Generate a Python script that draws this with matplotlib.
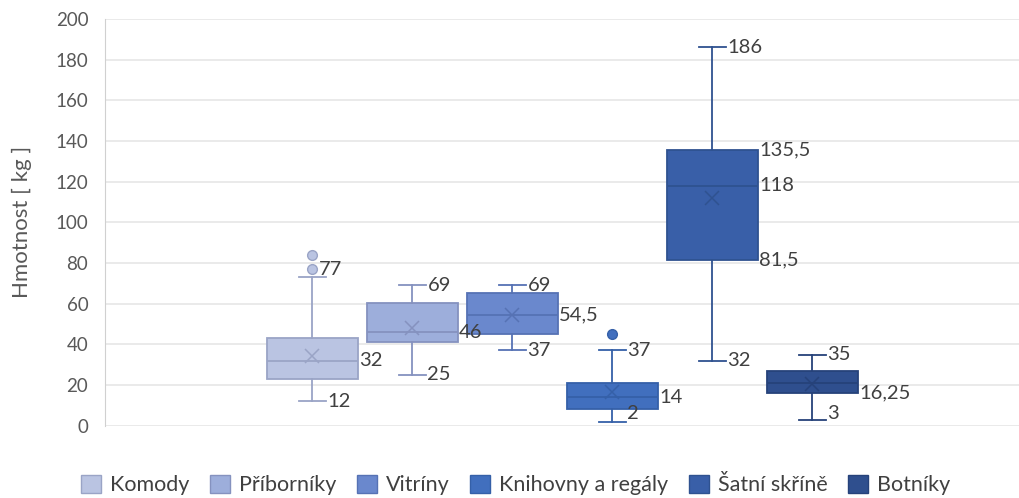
import numpy as np
import matplotlib.pyplot as plt
from matplotlib.patches import Patch

plt.rcParams['font.family'] = ['Lato', 'DejaVu Sans']

categories = ['Komody', 'Příborníky', 'Vitríny', 'Knihovny a regály', 'Šatní skříně', 'Botníky']
w_low  = [12, 25, 37, 2, 32, 3]
q1     = [23, 41, 45, 8.2, 81.5, 16.25]
median = [32, 46, 54.5, 14, 118, 21]
q3     = [43, 60.3, 65.3, 20.9, 135.5, 26.8]
w_high = [73, 69, 69, 37, 186, 35]
means  = [34.3, 48.2, 54.3, 16.5, 111.9, 20.3]
outliers = [[77, 84], [], [], [45], [], []]

fills = ['#BAC4E2', '#9DAEDB', '#6A88CD', '#416FBE', '#395FA8', '#2F4F8E']
edges = ['#9AA4C6', '#8592BF', '#5672B4', '#3560A8', '#2F5290', '#26427A']

# data labels: (category index, value, text, kind)
labels = [
    (0, 77, '77', 'point'), (0, 32, '32', 'box'), (0, 12, '12', 'cap'),
    (1, 69, '69', 'cap'), (1, 46, '46', 'box'), (1, 25, '25', 'cap'),
    (2, 69, '69', 'cap'), (2, 54.5, '54,5', 'box'), (2, 37, '37', 'cap'),
    (3, 37, '37', 'cap'), (3, 14, '14', 'box'), (3, 2, '2', 'cap'),
    (4, 186, '186', 'cap'), (4, 135.5, '135,5', 'box'), (4, 118, '118', 'box'),
    (4, 81.5, '81,5', 'box'), (4, 32, '32', 'cap'),
    (5, 35, '35', 'cap'), (5, 16.25, '16,25', 'box'), (5, 3, '3', 'cap'),
]

fig = plt.figure(figsize=(10.19, 4.98), dpi=100)
ax = fig.add_axes([105/1019, 72.3/498, 1 - 105/1019, (425.7-19)/498])

pos = np.arange(len(categories))
for i in range(len(categories)):
    st = [dict(med=median[i], q1=q1[i], q3=q3[i], whislo=w_low[i],
               whishi=w_high[i], mean=means[i], fliers=outliers[i])]
    ax.bxp(st, positions=[pos[i]], widths=0.91, showmeans=True, patch_artist=True,
           capwidths=0.27,
           boxprops=dict(facecolor=fills[i], edgecolor=edges[i], linewidth=1.3),
           medianprops=dict(color=edges[i], linewidth=1.3),
           whiskerprops=dict(color=edges[i], linewidth=1.3),
           capprops=dict(color=edges[i], linewidth=1.3),
           meanprops=dict(marker='x', markeredgecolor=edges[i], markersize=10,
                          markeredgewidth=1.1),
           flierprops=dict(marker='o', markerfacecolor=fills[i],
                           markeredgecolor=edges[i], markersize=7))

offs = {'cap': 0.155, 'box': 0.47, 'point': 0.07}
for i, v, t, kind in labels:
    ax.text(pos[i] + offs[kind], max(v, 6), t, ha='left', va='center',
            fontsize=14.5, color='#404040')

ax.set_xlim(2.5 - 4.57, 2.5 + 4.57)
ax.set_ylim(0, 200)
ax.set_yticks(np.arange(0, 201, 20))
ax.set_xticks([])
ax.tick_params(axis='y', length=0, labelsize=13.5, labelcolor='#595959', pad=12)
ax.grid(axis='y', color='#E6E6E6', linewidth=1.2)
ax.set_axisbelow(True)
for s in ['top', 'right', 'bottom']:
    ax.spines[s].set_visible(False)
ax.spines['left'].set_color('#D0D0D0')
ax.set_ylabel('Hmotnost [ kg ]', fontsize=16, color='#595959', labelpad=17)

handles = [Patch(facecolor=fills[i], edgecolor=edges[i], label=categories[i])
           for i in range(len(categories))]
fig.legend(handles=handles, loc='center', bbox_to_anchor=(516/1019, 1 - 485/498),
           ncol=6, frameon=False, fontsize=15.5, handlelength=0.93, handleheight=0.93,
           handletextpad=0.42, columnspacing=0.95, labelcolor='#404040')

fig.savefig('out.png', dpi=100)
